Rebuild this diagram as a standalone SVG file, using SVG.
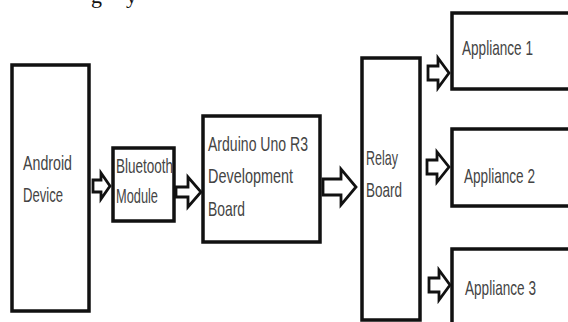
<svg xmlns="http://www.w3.org/2000/svg" width="568" height="322" viewBox="0 0 568 322">
<style>
.box{fill:#fff;stroke:#111;stroke-width:3.5}
.arr{fill:#fff;stroke:#111;stroke-width:2.8;stroke-linejoin:miter}
.lbl{font-family:"Liberation Sans",Arial,sans-serif;font-size:21px;fill:#444}
.top{font-family:"Liberation Serif","Times New Roman",serif;font-size:22px;fill:#111}
</style>
<rect width="568" height="322" fill="#fff"/>
<text class="top" x="91" y="3">g</text>
<text class="top" x="126" y="3">y</text>
<g id="android">
<rect class="box" x="12" y="65" width="77" height="246"/>
<text class="lbl" x="23" y="170" textLength="49" lengthAdjust="spacingAndGlyphs">Android</text>
<text class="lbl" x="23" y="202" textLength="40" lengthAdjust="spacingAndGlyphs">Device</text>
</g>
<g id="bluetooth">
<rect class="box" x="113" y="148" width="61" height="73"/>
<text class="lbl" x="116" y="173" textLength="57" lengthAdjust="spacingAndGlyphs">Bluetooth</text>
<text class="lbl" x="116" y="203" textLength="42" lengthAdjust="spacingAndGlyphs">Module</text>
</g>
<g id="arduino">
<rect class="box" x="203" y="116" width="117" height="126"/>
<text class="lbl" x="208" y="151" textLength="100" lengthAdjust="spacingAndGlyphs">Arduino Uno R3</text>
<text class="lbl" x="208" y="183" textLength="85" lengthAdjust="spacingAndGlyphs">Development</text>
<text class="lbl" x="208" y="216" textLength="37" lengthAdjust="spacingAndGlyphs">Board</text>
</g>
<g id="relay">
<rect class="box" x="362" y="58" width="58" height="262"/>
<text class="lbl" x="366" y="165" textLength="32" lengthAdjust="spacingAndGlyphs">Relay</text>
<text class="lbl" x="366" y="197" textLength="36" lengthAdjust="spacingAndGlyphs">Board</text>
</g>
<g id="appliance1">
<rect class="box" x="452" y="13" width="130" height="76"/>
<text class="lbl" x="462" y="55" textLength="71" lengthAdjust="spacingAndGlyphs">Appliance 1</text>
</g>
<g id="appliance2">
<rect class="box" x="452" y="129" width="130" height="77"/>
<text class="lbl" x="464" y="183" textLength="71" lengthAdjust="spacingAndGlyphs">Appliance 2</text>
</g>
<g id="appliance3">
<rect class="box" x="452" y="249" width="130" height="90"/>
<text class="lbl" x="465" y="295" textLength="71" lengthAdjust="spacingAndGlyphs">Appliance 3</text>
</g>
<g id="connectors">
<path class="arr" d="M93,180 H101 V173 L110,186 L101,199 V192 H93 Z"/>
<path class="arr" d="M176,187 H188 V177 L201,192 L188,207 V197 H176 Z"/>
<path class="arr" d="M323,179 H341 V169 L356,187 L341,205 V195 H323 Z"/>
<path class="arr" d="M428,66 H438 V58 L449,73 L438,88 V80 H428 Z"/>
<path class="arr" d="M427,160 H437 V152 L449,167 L437,182 V174 H427 Z"/>
<path class="arr" d="M429,278 H439 V270 L450,285 L439,300 V292 H429 Z"/>
</g>
</svg>
